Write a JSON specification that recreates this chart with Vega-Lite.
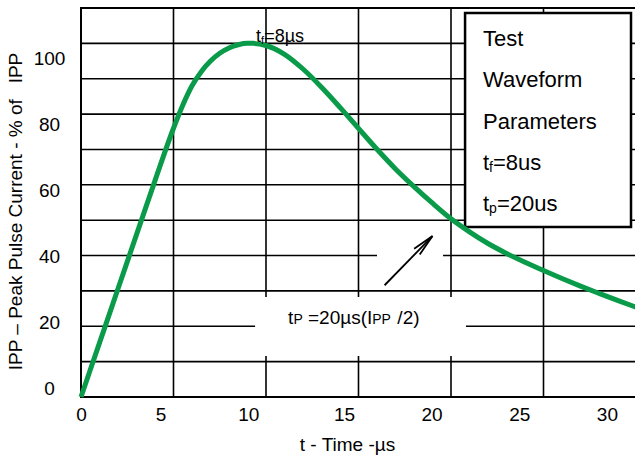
{
  "$schema": "https://vega.github.io/schema/vega-lite/v6.json",
  "width": 555,
  "height": 389,
  "autosize": {"type": "none"},
  "padding": {"left": 81, "top": 8, "right": 0, "bottom": 62},
  "config": {"font": "Liberation Sans", "view": {"stroke": "#000", "strokeWidth": 2}},
  "datasets": {
    "curve": [
      {"t": 0, "v": 0}, {"t": 1, "v": 15.3}, {"t": 2, "v": 30.6}, {"t": 3, "v": 45.9},
      {"t": 4, "v": 61.2}, {"t": 5, "v": 76}, {"t": 5.5, "v": 82.5}, {"t": 6, "v": 88},
      {"t": 6.5, "v": 92}, {"t": 7, "v": 95}, {"t": 7.5, "v": 97.2}, {"t": 8, "v": 98.7},
      {"t": 8.5, "v": 99.6}, {"t": 9, "v": 100}, {"t": 9.3, "v": 100}, {"t": 10, "v": 99.4},
      {"t": 11, "v": 96.9}, {"t": 12, "v": 92.75}, {"t": 13, "v": 87.6}, {"t": 14, "v": 81.9},
      {"t": 15, "v": 75.95}, {"t": 16, "v": 70.05}, {"t": 17, "v": 64.5}, {"t": 18, "v": 59.5},
      {"t": 19, "v": 54.8}, {"t": 20, "v": 50.4}, {"t": 21, "v": 46.7}, {"t": 22, "v": 43.4},
      {"t": 23, "v": 40.6}, {"t": 24, "v": 38.1}, {"t": 25, "v": 35.75}, {"t": 26, "v": 33.5},
      {"t": 27, "v": 31.35}, {"t": 28, "v": 29.3}, {"t": 29, "v": 27.3}, {"t": 30, "v": 25.4}
    ],
    "vgrid": [{"g": 5}, {"g": 10}, {"g": 15}, {"g": 20}, {"g": 25}],
    "hgrid": [{"g": 10}, {"g": 20}, {"g": 30}, {"g": 40}, {"g": 50}, {"g": 60}, {"g": 70}, {"g": 80}, {"g": 90}, {"g": 100}],
    "gaps": [
      {"x": 9.41, "x2": 20.81, "y": 11.6, "y2": 28.3},
      {"x": 16.0, "x2": 19.57, "y": 34.5, "y2": 45.8}
    ],
    "box": [{"x": 20.76, "x2": 29.73, "y": 48.07, "y2": 108.6}],
    "arrow": [{"x": 16.41, "y": 31.6, "x2": 19.0, "y2": 45.5}],
    "notes": [
      {"note": "legend", "role": "main", "x": 21.73, "y": 99.26, "label": "Test"},
      {"note": "legend", "role": "main", "x": 21.73, "y": 87.67, "label": "Waveform"},
      {"note": "legend", "role": "main", "x": 21.73, "y": 75.79, "label": "Parameters"},
      {"note": "legend", "role": "main", "x": 21.73, "y": 64.19, "label": "t"},
      {"note": "legend", "role": "sub", "x": 22.06, "y": 64.19, "label": "f"},
      {"note": "legend", "role": "main", "x": 22.27, "y": 64.19, "label": "=8us"},
      {"note": "legend", "role": "main", "x": 21.73, "y": 52.6, "label": "t"},
      {"note": "legend", "role": "sub", "x": 22.06, "y": 52.6, "label": "p"},
      {"note": "legend", "role": "main", "x": 22.48, "y": 52.6, "label": "=20us"},
      {"note": "tp", "role": "main", "x": 11.19, "y": 20.64, "label": "t"},
      {"note": "tp", "role": "sub", "x": 11.48, "y": 20.64, "label": "P"},
      {"note": "tp", "role": "main", "x": 12.27, "y": 20.64, "label": "=20µs(I"},
      {"note": "tp", "role": "sub", "x": 15.74, "y": 20.64, "label": "PP"},
      {"note": "tp", "role": "main", "x": 17.1, "y": 20.64, "label": "/2)"},
      {"note": "tf", "role": "main", "x": 9.46, "y": 100.4, "label": "t"},
      {"note": "tf", "role": "sub", "x": 9.73, "y": 100.4, "label": "f"},
      {"note": "tf", "role": "main", "x": 9.9, "y": 100.4, "label": "=8µs"}
    ],
    "ticks": [{"u": 15, "w": 50}]
  },
  "layer": [
    {
      "layer": [
        {
          "data": {"name": "vgrid"},
          "mark": {"type": "rule", "color": "#000", "strokeWidth": 1.6},
          "encoding": {
            "x": {"field": "g", "type": "quantitative", "scale": {"domain": [0, 30], "nice": false, "zero": false}, "axis": null}
          }
        },
        {
          "data": {"name": "hgrid"},
          "mark": {"type": "rule", "color": "#000", "strokeWidth": 1.6},
          "encoding": {
            "y": {"field": "g", "type": "quantitative", "scale": {"domain": [0, 110], "nice": false, "zero": false}, "axis": null}
          }
        },
        {
          "data": {"name": "gaps"},
          "mark": {"type": "rect", "fill": "#ffffff", "strokeWidth": 0},
          "encoding": {
            "x": {"field": "x", "type": "quantitative", "scale": {"domain": [0, 30], "nice": false, "zero": false}, "axis": null},
            "x2": {"field": "x2"},
            "y": {"field": "y", "type": "quantitative", "scale": {"domain": [0, 110], "nice": false, "zero": false}, "axis": null},
            "y2": {"field": "y2"}
          }
        },
        {
          "data": {"name": "box"},
          "mark": {"type": "rect", "fill": "#ffffff", "stroke": "#000", "strokeWidth": 2.5},
          "encoding": {
            "x": {"field": "x", "type": "quantitative", "scale": {"domain": [0, 30], "nice": false, "zero": false}, "axis": null},
            "x2": {"field": "x2"},
            "y": {"field": "y", "type": "quantitative", "scale": {"domain": [0, 110], "nice": false, "zero": false}, "axis": null},
            "y2": {"field": "y2"}
          }
        },
        {
          "data": {"name": "curve"},
          "mark": {"type": "line", "color": "#0a9b4a", "strokeWidth": 5, "interpolate": "monotone"},
          "encoding": {
            "x": {"field": "t", "type": "quantitative", "scale": {"domain": [0, 30], "nice": false, "zero": false}, "axis": null},
            "y": {"field": "v", "type": "quantitative", "scale": {"domain": [0, 110], "nice": false, "zero": false}, "axis": null}
          }
        },
        {
          "data": {"name": "arrow"},
          "mark": {"type": "rule", "color": "#000", "strokeWidth": 1.8},
          "encoding": {
            "x": {"field": "x", "type": "quantitative", "scale": {"domain": [0, 30], "nice": false, "zero": false}, "axis": null},
            "x2": {"field": "x2"},
            "y": {"field": "y", "type": "quantitative", "scale": {"domain": [0, 110], "nice": false, "zero": false}, "axis": null},
            "y2": {"field": "y2"}
          }
        },
        {
          "data": {"name": "arrow"},
          "mark": {"type": "point", "shape": "M -0.36 2 L 0 0 L 0.36 2", "filled": false, "stroke": "#000", "strokeWidth": 1.8, "size": 484, "angle": 45, "opacity": 1},
          "encoding": {
            "x": {"field": "x2", "type": "quantitative", "scale": {"domain": [0, 30], "nice": false, "zero": false}, "axis": null},
            "y": {"field": "y2", "type": "quantitative", "scale": {"domain": [0, 110], "nice": false, "zero": false}, "axis": null}
          }
        },
        {
          "data": {"name": "notes"},
          "transform": [{"filter": "datum.note === 'legend' && datum.role === 'main'"}],
          "mark": {"type": "text", "align": "left", "baseline": "alphabetic", "fontSize": 22, "color": "#000"},
          "encoding": {
            "x": {"field": "x", "type": "quantitative", "scale": {"domain": [0, 30], "nice": false, "zero": false}, "axis": null},
            "y": {"field": "y", "type": "quantitative", "scale": {"domain": [0, 110], "nice": false, "zero": false}, "axis": null},
            "text": {"field": "label"}
          }
        },
        {
          "data": {"name": "notes"},
          "transform": [{"filter": "datum.note === 'legend' && datum.role === 'sub'"}],
          "mark": {"type": "text", "align": "left", "baseline": "alphabetic", "fontSize": 14, "dy": 2, "color": "#000"},
          "encoding": {
            "x": {"field": "x", "type": "quantitative", "scale": {"domain": [0, 30], "nice": false, "zero": false}, "axis": null},
            "y": {"field": "y", "type": "quantitative", "scale": {"domain": [0, 110], "nice": false, "zero": false}, "axis": null},
            "text": {"field": "label"}
          }
        },
        {
          "data": {"name": "notes"},
          "transform": [{"filter": "datum.note === 'tp' && datum.role === 'main'"}],
          "mark": {"type": "text", "align": "left", "baseline": "alphabetic", "fontSize": 19, "color": "#000"},
          "encoding": {
            "x": {"field": "x", "type": "quantitative", "scale": {"domain": [0, 30], "nice": false, "zero": false}, "axis": null},
            "y": {"field": "y", "type": "quantitative", "scale": {"domain": [0, 110], "nice": false, "zero": false}, "axis": null},
            "text": {"field": "label"}
          }
        },
        {
          "data": {"name": "notes"},
          "transform": [{"filter": "datum.note === 'tp' && datum.role === 'sub'"}],
          "mark": {"type": "text", "align": "left", "baseline": "alphabetic", "fontSize": 14, "color": "#000"},
          "encoding": {
            "x": {"field": "x", "type": "quantitative", "scale": {"domain": [0, 30], "nice": false, "zero": false}, "axis": null},
            "y": {"field": "y", "type": "quantitative", "scale": {"domain": [0, 110], "nice": false, "zero": false}, "axis": null},
            "text": {"field": "label"}
          }
        },
        {
          "data": {"name": "notes"},
          "transform": [{"filter": "datum.note === 'tf' && datum.role === 'main'"}],
          "mark": {"type": "text", "align": "left", "baseline": "alphabetic", "fontSize": 18, "color": "#000"},
          "encoding": {
            "x": {"field": "x", "type": "quantitative", "scale": {"domain": [0, 30], "nice": false, "zero": false}, "axis": null},
            "y": {"field": "y", "type": "quantitative", "scale": {"domain": [0, 110], "nice": false, "zero": false}, "axis": null},
            "text": {"field": "label"}
          }
        },
        {
          "data": {"name": "notes"},
          "transform": [{"filter": "datum.note === 'tf' && datum.role === 'sub'"}],
          "mark": {"type": "text", "align": "left", "baseline": "alphabetic", "fontSize": 11, "dy": 2, "color": "#000"},
          "encoding": {
            "x": {"field": "x", "type": "quantitative", "scale": {"domain": [0, 30], "nice": false, "zero": false}, "axis": null},
            "y": {"field": "y", "type": "quantitative", "scale": {"domain": [0, 110], "nice": false, "zero": false}, "axis": null},
            "text": {"field": "label"}
          }
        }
      ]
    },
    {
      "data": {"name": "ticks"},
      "mark": {"type": "point", "opacity": 0},
      "encoding": {
        "x": {"field": "u", "type": "quantitative", "scale": {"domain": [0, 31.66], "nice": false, "zero": false},
          "axis": {"orient": "bottom", "values": [0, 5, 10, 15, 20, 25, 30], "grid": false, "ticks": false, "domain": false, "labelFontSize": 19, "labelColor": "#000", "labelPadding": 8, "labelFlush": false, "labelOverlap": false, "labelBound": false,
            "labelOffset": {"condition": {"test": "datum.value > 0 && datum.value <= 10", "value": -8}, "value": 0},
            "title": "t - Time -µs", "titleFontSize": 19, "titleFontWeight": "normal", "titleColor": "#000", "titlePadding": 11, "titleX": 266}},
        "y": {"field": "w", "type": "quantitative", "scale": {"domain": [-2.51, 115.2], "nice": false, "zero": false},
          "axis": {"orient": "left", "values": [0, 20, 40, 60, 80, 100], "grid": false, "ticks": false, "domain": false, "labelFontSize": 19, "labelColor": "#000", "labelAlign": "center", "labelBaseline": "middle", "labelPadding": 32, "labelFlush": false, "labelOverlap": false, "title": "IPP – Peak Pulse Current - % of \u00a0\u00a0IPP", "titleFontSize": 19, "titleFontWeight": "normal", "titleColor": "#000", "titlePadding": 8, "titleY": 203}}
      }
    }
  ],
  "resolve": {"scale": {"x": "independent", "y": "independent"}}
}
